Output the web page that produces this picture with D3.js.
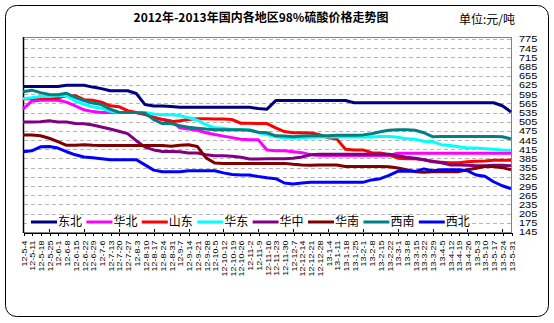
<!DOCTYPE html>
<html>
<head>
<meta charset="utf-8">
<script src="https://cdn.jsdelivr.net/npm/d3@7"></script>
<style>
  body { margin: 0; background: #fff; }
  svg { display: block; }
</style>
</head>
<body>
<svg id="chart" width="554" height="323"></svg>
<script>
// Weekly quote dates (yy-m-d)
const dates = [
  "12-5-4","12-5-11","12-5-18","12-5-25","12-6-1","12-6-8","12-6-15","12-6-22","12-6-29",
  "12-7-6","12-7-13","12-7-20","12-7-27","12-8-3","12-8-10","12-8-17","12-8-24","12-8-31",
  "12-9-7","12-9-14","12-9-21","12-9-28","12-10-5","12-10-12","12-10-19","12-10-26",
  "12-11-2","12-11-9","12-11-16","12-11-23","12-11-30","12-12-7","12-12-14","12-12-21","12-12-28",
  "13-1-4","13-1-11","13-1-18","13-1-25","13-2-1","13-2-8","13-2-15","13-2-22",
  "13-3-1","13-3-8","13-3-15","13-3-22","13-3-29","13-4-5","13-4-12","13-4-19","13-4-26",
  "13-5-3","13-5-10","13-5-17","13-5-24","13-5-31"
];

// Regional prices of 98% sulfuric acid, yuan/ton
const dongbei = [620,620,620,620,620,624,624,624,618,613,606,606,606,597,561,556,556,555,552,552,552,552,552,552,552,552,552,548,546,574,574,574,574,574,574,574,574,574,567,567,567,567,567,567,567,567,567,567,567,567,567,567,567,567,567,557,537];
const huabei  = [546,572,575,575,575,569,557,544,538,535,535,535,535,535,530,518,512,508,485,481,477,469,463,458,453,448,446,446,413,410,410,407,404,397,395,395,395,395,395,395,395,395,395,402,402,402,402,402,402,402,402,402,402,402,402,402,402];
const shandong= [580,580,582,582,582,590,590,577,575,569,557,554,541,535,528,520,512,505,508,512,515,515,514,514,512,500,500,499,499,485,473,469,469,468,463,453,449,415,413,413,404,403,397,386,384,384,381,374,373,371,371,374,376,377,379,379,379];
const huadong = [580,583,587,587,590,590,572,562,554,549,539,535,535,535,535,530,528,528,525,518,510,495,485,484,479,479,479,469,463,456,453,452,453,454,455,455,455,455,455,455,455,457,457,454,449,448,441,440,430,427,423,419,419,417,415,413,412];
const huazhong= [504,504,505,508,504,504,499,498,494,488,481,474,466,443,422,413,408,408,407,403,403,397,394,394,392,389,383,383,384,384,384,386,390,397,399,399,399,399,399,399,399,399,399,394,389,386,381,376,371,364,364,363,361,361,363,363,361];
const huanan  = [462,462,459,451,440,428,428,430,428,427,427,427,427,427,427,427,427,425,428,430,424,387,370,369,369,369,369,369,369,369,369,366,364,363,364,364,364,359,359,359,359,359,358,354,348,342,340,342,342,342,342,348,353,359,359,355,348];
const xinan   = [603,608,600,594,593,598,584,574,566,561,546,536,535,535,533,512,499,499,492,487,484,481,479,479,479,479,477,471,469,459,458,456,458,459,459,459,461,461,461,462,466,472,477,479,479,477,469,456,457,457,457,457,457,457,457,456,449];
const xibei   = [407,410,423,424,419,407,397,390,387,384,381,381,381,381,364,347,342,342,342,345,345,345,345,338,333,331,331,326,322,319,305,302,305,307,307,307,307,307,307,307,315,319,330,343,343,343,351,345,348,348,348,345,331,327,309,296,286];

const seriesNames  = ["东北","华北","山东","华东","华中","华南","西南","西北"];
const seriesColors = ["#000080","#ff00ff","#ff0000","#00ffff","#800080","#800000","#008080","#0000ff"];
const seriesValues = [dongbei, huabei, shandong, huadong, huazhong, huanan, xinan, xibei];

const yTicks = d3.range(145, 776, 30);

const titleText = "2012年-2013年国内各地区98%硫酸价格走势图";
const unitText = "单位:元/吨";

const svg = d3.select("#chart");
const cjk = "'Noto Sans CJK SC', 'Noto Sans', sans-serif";
const latin = "'Liberation Sans', Arial, sans-serif";

// outer rounded frame
svg.append("rect")
  .attr("x", 5.5).attr("y", 5.5)
  .attr("width", 543).attr("height", 311)
  .attr("rx", 11).attr("ry", 11)
  .attr("fill", "#fff").attr("stroke", "#000").attr("stroke-width", 1);

const plot = { left: 23, right: 511, top: 37, bottom: 232 };

const x = d3.scalePoint().domain(dates).range([plot.left, plot.right]);
const y = d3.scaleLinear().domain([145, 775]).range([232, 39]);

// plot border (top / right in grey)
svg.append("rect")
  .attr("x", plot.left + 0.5).attr("y", plot.top + 0.5)
  .attr("width", plot.right - plot.left).attr("height", plot.bottom - plot.top)
  .attr("fill", "none").attr("stroke", "#808080").attr("stroke-width", 1);

// dashed horizontal grid
svg.append("g")
  .selectAll("line")
  .data(yTicks.filter(v => v > 145))
  .join("line")
  .attr("x1", plot.left + 1).attr("x2", plot.right)
  .attr("y1", d => Math.round(y(d)) + 0.5).attr("y2", d => Math.round(y(d)) + 0.5)
  .attr("stroke", "#b4b4b4").attr("stroke-width", 1)
  .attr("stroke-dasharray", "4,3")
  .attr("shape-rendering", "crispEdges");

// value labels on the right (tall, tightly stacked digits)
const yAxis = svg.append("g")
  .attr("transform", `translate(${plot.right},0)`)
  .call(d3.axisRight(y).tickValues(yTicks).tickSize(0).tickPadding(0));
yAxis.select(".domain").remove();
yAxis.selectAll("text")
  .attr("font-family", latin).attr("font-size", 10).attr("fill", "#000")
  .attr("x", 0).attr("dy", "0.36em")
  .attr("transform", "translate(8,0) scale(1.1,0.82)");

// category axis
const xAxis = svg.append("g")
  .attr("transform", `translate(0.5,${plot.bottom + 0.5})`)
  .call(d3.axisBottom(x).tickSizeInner(3).tickSizeOuter(0).tickPadding(4));
xAxis.select(".domain").attr("stroke", "#000").attr("shape-rendering", "crispEdges");
xAxis.selectAll(".tick line").attr("stroke", "#000").attr("shape-rendering", "crispEdges");
xAxis.selectAll("text")
  .attr("font-family", latin).attr("font-size", 9).attr("fill", "#000")
  .attr("text-anchor", "end")
  .attr("transform", "rotate(-90) scale(1,0.8)")
  .attr("x", -8).attr("y", 0).attr("dy", "0.35em");

// taller ticks crossing the axis every fourth week
svg.append("g")
  .selectAll("line")
  .data(dates.filter((d, i) => i % 4 === 3))
  .join("line")
  .attr("x1", d => Math.round(x(d)) + 0.5).attr("x2", d => Math.round(x(d)) + 0.5)
  .attr("y1", plot.bottom - 3).attr("y2", plot.bottom)
  .attr("stroke", "#000").attr("shape-rendering", "crispEdges");

// left value axis line
svg.append("line")
  .attr("x1", plot.left + 0.5).attr("x2", plot.left + 0.5)
  .attr("y1", plot.top).attr("y2", plot.bottom + 1)
  .attr("stroke", "#000").attr("stroke-width", 1.5);

// series lines
const line = d3.line()
  .x((d, i) => x(dates[i]))
  .y(d => y(d));

svg.append("g")
  .selectAll("path")
  .data(seriesValues)
  .join("path")
  .attr("d", d => line(d))
  .attr("fill", "none")
  .attr("stroke", (d, i) => seriesColors[i])
  .attr("stroke-width", 3)
  .attr("stroke-linejoin", "round");

// legend
const legend = svg.append("g");
legend.append("rect")
  .attr("x", 27).attr("y", 215).attr("width", 445).attr("height", 14)
  .attr("fill", "#fff");
const item = legend.selectAll("g.item")
  .data(seriesNames)
  .join("g")
  .attr("class", "item")
  .attr("transform", (d, i) => `translate(${31 + i * 55.4},222)`);
item.append("line")
  .attr("x1", 0).attr("x2", 26).attr("y1", 0).attr("y2", 0)
  .attr("stroke", (d, i) => seriesColors[i]).attr("stroke-width", 3);
item.append("text")
  .attr("x", 27).attr("y", 0).attr("dy", "0.36em")
  .attr("font-family", cjk).attr("font-size", 12).attr("fill", "#000")
  .text(d => d);

// title and unit
svg.append("text")
  .attr("x", 261).attr("y", 22)
  .attr("text-anchor", "middle")
  .attr("font-family", cjk).attr("font-size", 12).attr("font-weight", "bold")
  .attr("fill", "#000")
  .text(titleText);
svg.append("text")
  .attr("x", 459).attr("y", 24)
  .attr("font-family", cjk).attr("font-size", 12)
  .attr("fill", "#000")
  .text(unitText);
</script>
</body>
</html>
